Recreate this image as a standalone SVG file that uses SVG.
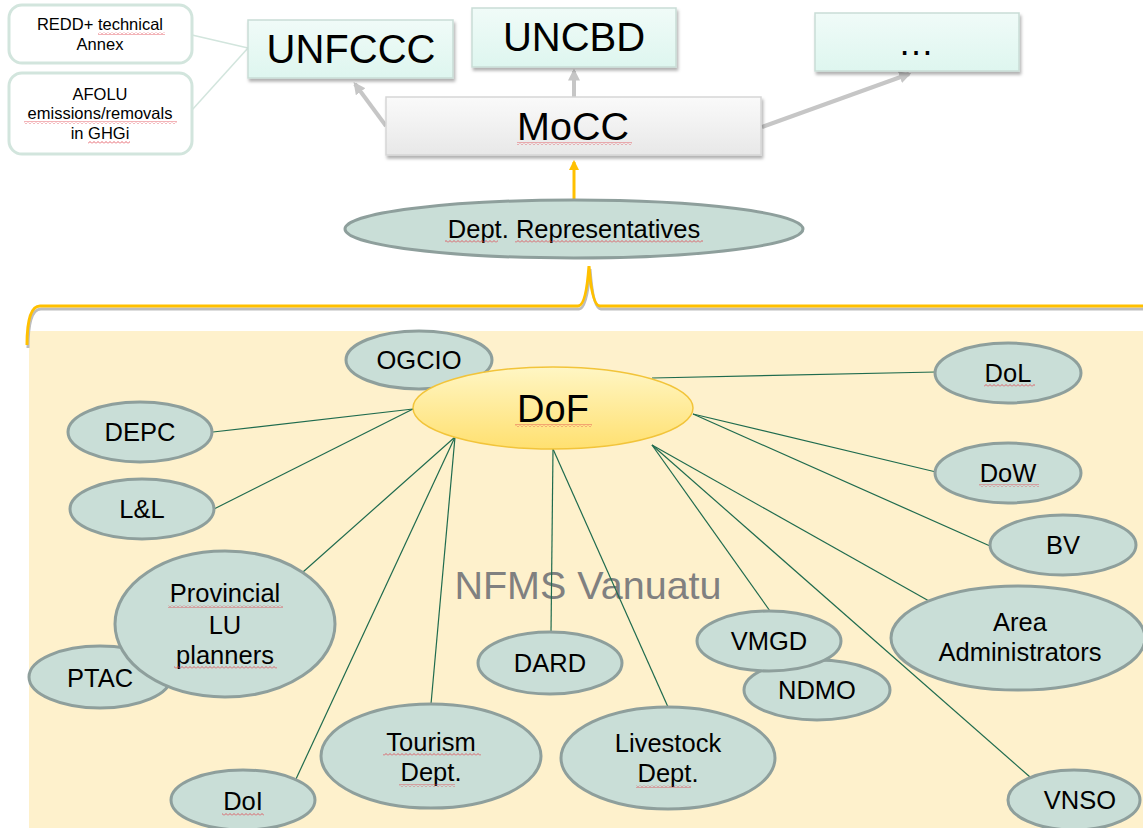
<svg xmlns="http://www.w3.org/2000/svg" width="1143" height="828" viewBox="0 0 1143 828">
<style>
text{font-family:"Liberation Sans",Arial,sans-serif;fill:#000;text-anchor:middle}
.note{fill:#fff;stroke:#d2e5dd;stroke-width:3}
.top{fill:url(#cyan);stroke:#c9ddd6;stroke-width:1.5}
.node{fill:#c9ded7;stroke:#8e9f9c;stroke-width:3}
.lbl{font-size:25.5px}
.sm{font-size:16.5px}
.link{stroke:#1f6b4e;stroke-width:1.2;fill:none}
.garr{stroke:#c6c6c6;stroke-width:4;fill:none}
.sq{fill:url(#sqp)}
</style>
<defs>
<linearGradient id="cyan" x1="0" y1="0" x2="0" y2="1"><stop offset="0" stop-color="#f0fbf8"/><stop offset="1" stop-color="#def6ef"/></linearGradient>
<linearGradient id="gray" x1="0" y1="0" x2="0" y2="1"><stop offset="0" stop-color="#fafafa"/><stop offset="1" stop-color="#e8e8e8"/></linearGradient>
<linearGradient id="yel" x1="0" y1="0" x2="0" y2="1"><stop offset="0" stop-color="#fff6c4"/><stop offset="1" stop-color="#ffe070"/></linearGradient>
<filter id="sh" x="-10%" y="-10%" width="130%" height="140%"><feDropShadow dx="1.5" dy="3" stdDeviation="1.5" flood-color="#000" flood-opacity="0.3"/></filter>
<marker id="ga" viewBox="0 0 10 10" refX="8" refY="5" markerWidth="3" markerHeight="3" orient="auto"><path d="M0,0 L10,5 L0,10 z" fill="#c6c6c6"/></marker>
<marker id="ya" viewBox="0 0 10 10" refX="8" refY="5" markerWidth="3.5" markerHeight="3.5" orient="auto"><path d="M0,0 L10,5 L0,10 z" fill="#ffc000"/></marker>
<pattern id="sqp" width="4" height="3" patternUnits="userSpaceOnUse"><path d="M0,2.5 L2,0.5 L4,2.5" stroke="#e0404a" stroke-width="0.8" fill="none"/></pattern>
</defs>
<rect width="1143" height="828" fill="#fff"/>
<rect x="29" y="331" width="1114" height="497" fill="#fef1cc"/>
<text x="588" y="599" style="font-size:39.5px;fill:#808080">NFMS Vanuatu</text>
<path d="M27,345 Q27,306 40,306 L578,306 Q586,306 589,266 Q592,306 600,306 L1143,306" fill="none" stroke="#bdbdbd" stroke-width="3" transform="translate(1,3)"/>
<path d="M27,345 Q27,306 40,306 L578,306 Q586,306 589,266 Q592,306 600,306 L1143,306" fill="none" stroke="#ffc000" stroke-width="3"/>
<g id="connectors">
<line x1="192" y1="35" x2="248" y2="48" stroke="#d2e5dd" stroke-width="1.5"/>
<line x1="192" y1="110" x2="248" y2="48" stroke="#d2e5dd" stroke-width="1.5"/>
<line class="garr" x1="386" y1="126" x2="355" y2="84" marker-end="url(#ga)"/>
<line class="garr" x1="574" y1="97" x2="574" y2="71" marker-end="url(#ga)"/>
<line class="garr" x1="762" y1="127" x2="909" y2="74" marker-end="url(#ga)"/>
<line x1="574" y1="200" x2="574" y2="162" stroke="#ffc000" stroke-width="3" marker-end="url(#ya)"/>
<line class="link" x1="652" y1="378" x2="936" y2="372"/>
<line class="link" x1="693" y1="414" x2="936" y2="472"/>
<line class="link" x1="693" y1="414" x2="990" y2="546"/>
<line class="link" x1="652" y1="445" x2="929" y2="601"/>
<line class="link" x1="652" y1="445" x2="1030" y2="777"/>
<line class="link" x1="652" y1="445" x2="770" y2="611"/>
<line class="link" x1="413" y1="409" x2="213" y2="432"/>
<line class="link" x1="413" y1="409" x2="214" y2="509"/>
<line class="link" x1="455" y1="437" x2="303" y2="572"/>
<line class="link" x1="455" y1="437" x2="296" y2="779"/>
<line class="link" x1="455" y1="437" x2="431" y2="704"/>
<line class="link" x1="553" y1="449" x2="551" y2="633"/>
<line class="link" x1="553" y1="449" x2="668" y2="707"/>
</g>
<g id="redd">
<rect class="note" x="9" y="5" width="183" height="58" rx="13"/>
<text class="sm" x="100" y="30">REDD+ technical</text>
<text class="sm" x="100" y="50">Annex</text>
<rect class="sq" x="98" y="32" width="67" height="3"/>
</g>
<g id="afolu">
<rect class="note" x="9" y="73" width="183" height="81" rx="13"/>
<text class="sm" x="100" y="100">AFOLU</text>
<text class="sm" x="100" y="119">emissions/removals</text>
<text class="sm" x="100" y="139">in GHGi</text>
<rect class="sq" x="24" y="121" width="153" height="3"/>
<rect class="sq" x="88" y="141" width="42" height="3"/>
</g>
<g id="unfccc">
<rect class="top" x="248" y="20" width="205" height="58" filter="url(#sh)"/>
<text x="351" y="63" style="font-size:40px">UNFCCC</text>
</g>
<g id="uncbd">
<rect class="top" x="472" y="8" width="204" height="59" filter="url(#sh)"/>
<text x="574" y="51" style="font-size:40px">UNCBD</text>
</g>
<g id="more">
<rect class="top" x="815" y="13" width="204" height="58" filter="url(#sh)"/>
<text x="916" y="55" style="font-size:36px">…</text>
</g>
<g id="mocc">
<rect x="386" y="97" width="375" height="58" fill="url(#gray)" stroke="#d6d6d6" stroke-width="1.5" filter="url(#sh)"/>
<text x="573" y="140" style="font-size:39.5px">MoCC</text>
<rect class="sq" x="517" y="142" width="115" height="3"/>
</g>
<g id="dept-rep">
<ellipse class="node" cx="574" cy="229" rx="229" ry="29"/>
<text x="574" y="238" style="font-size:25.5px">Dept. Representatives</text>
<rect class="sq" x="445" y="240" width="53" height="3"/>
<rect class="sq" x="515" y="240" width="188" height="3"/>
</g>
<g id="ogcio"><ellipse class="node" cx="419" cy="360" rx="73" ry="29"/><text class="lbl" x="419" y="369">OGCIO</text></g>
<g id="dof">
<ellipse cx="553" cy="408" rx="140" ry="41" fill="url(#yel)" stroke="#f2c43a" stroke-width="1.5"/>
<text x="553" y="422" style="font-size:38px">DoF</text>
<rect class="sq" x="515" y="424" width="77" height="3"/>
</g>
<g id="depc"><ellipse class="node" cx="140" cy="432" rx="72" ry="30"/><text class="lbl" x="140" y="441">DEPC</text></g>
<g id="ll"><ellipse class="node" cx="142" cy="509" rx="72" ry="30"/><text class="lbl" x="142" y="518">L&amp;L</text></g>
<g id="ptac"><ellipse class="node" cx="100" cy="677" rx="71" ry="31"/><text class="lbl" x="100" y="687">PTAC</text></g>
<g id="provincial">
<ellipse class="node" cx="225" cy="624" rx="110" ry="73"/>
<text class="lbl" x="225" y="602">Provincial</text>
<text class="lbl" x="225" y="634">LU</text>
<text class="lbl" x="225" y="664">planners</text>
<rect class="sq" x="168" y="605" width="115" height="3"/>
<rect class="sq" x="174" y="666" width="103" height="3"/>
</g>
<g id="doi"><ellipse class="node" cx="243" cy="800" rx="72" ry="30"/><text class="lbl" x="243" y="810">DoI</text><rect class="sq" x="222" y="813" width="42" height="3"/></g>
<g id="tourism">
<ellipse class="node" cx="431" cy="756" rx="110" ry="52"/>
<text class="lbl" x="431" y="751">Tourism</text>
<text class="lbl" x="431" y="781">Dept.</text>
<rect class="sq" x="383" y="753" width="98" height="3"/>
<rect class="sq" x="399" y="784" width="56" height="3"/>
</g>
<g id="dard"><ellipse class="node" cx="550" cy="663" rx="72" ry="31"/><text class="lbl" x="550" y="672">DARD</text></g>
<g id="livestock">
<ellipse class="node" cx="668" cy="758" rx="107" ry="51"/>
<text class="lbl" x="668" y="752">Livestock</text>
<text class="lbl" x="668" y="782">Dept.</text>
<rect class="sq" x="636" y="785" width="55" height="3"/>
</g>
<g id="ndmo"><ellipse class="node" cx="817" cy="690" rx="73" ry="30"/><text class="lbl" x="817" y="699">NDMO</text></g>
<g id="vmgd"><ellipse class="node" cx="769" cy="641" rx="72" ry="30"/><text class="lbl" x="769" y="650">VMGD</text></g>
<g id="area">
<ellipse class="node" cx="1018" cy="638" rx="127" ry="52"/>
<text class="lbl" x="1020" y="631">Area</text>
<text class="lbl" x="1020" y="661">Administrators</text>
</g>
<g id="vnso"><ellipse class="node" cx="1074" cy="800" rx="66" ry="30"/><text class="lbl" x="1080" y="809">VNSO</text></g>
<g id="bv"><ellipse class="node" cx="1063" cy="545" rx="73" ry="30"/><text class="lbl" x="1063" y="554">BV</text></g>
<g id="dow"><ellipse class="node" cx="1008" cy="473" rx="73" ry="30"/><text class="lbl" x="1008" y="482">DoW</text><rect class="sq" x="979" y="484" width="60" height="3"/></g>
<g id="dol"><ellipse class="node" cx="1008" cy="373" rx="73" ry="30"/><text class="lbl" x="1008" y="382">DoL</text><rect class="sq" x="984" y="384" width="51" height="3"/></g>
</svg>
